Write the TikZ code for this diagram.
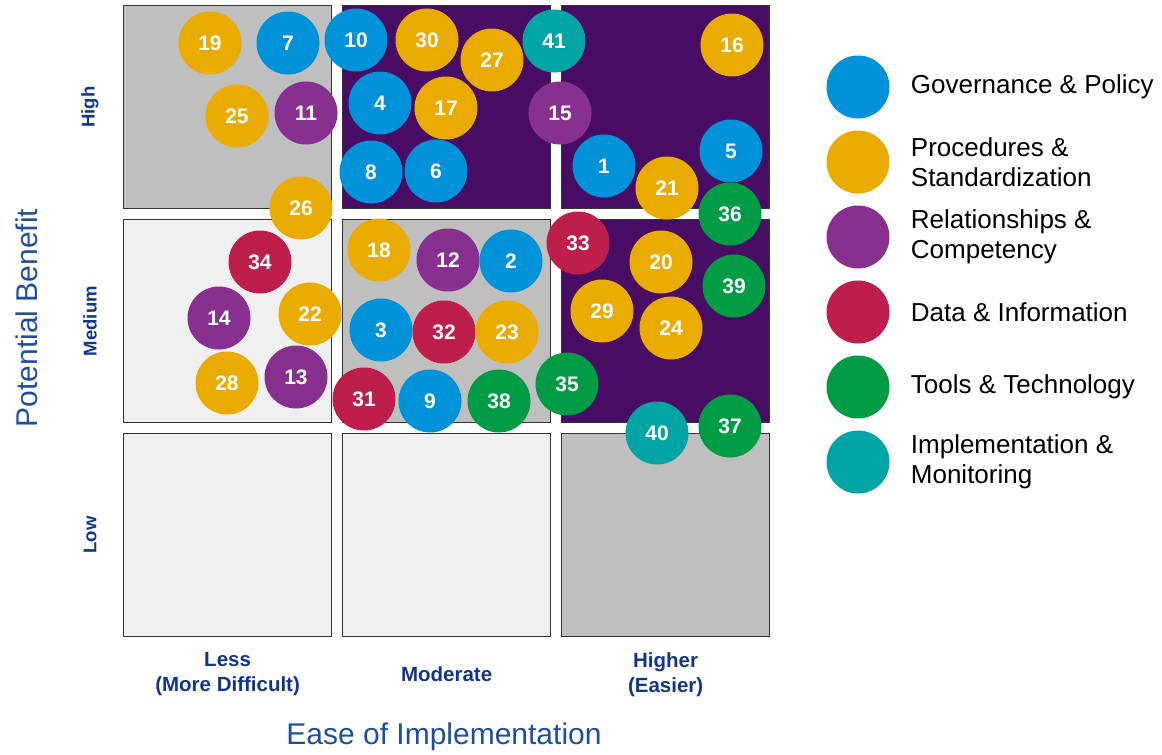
\documentclass[tikz,border=0pt]{standalone}
\usepackage{fontspec}
\setmainfont{Liberation Sans}
\usetikzlibrary{positioning}

\definecolor{govblue}{HTML}{0092D8}
\definecolor{procgold}{HTML}{EAAB00}
\definecolor{relpurple}{HTML}{87308F}
\definecolor{datared}{HTML}{BE1E4C}
\definecolor{toolgreen}{HTML}{009B45}
\definecolor{implteal}{HTML}{00A4A2}
\definecolor{cellpurple}{HTML}{480C64}
\definecolor{cellgray}{HTML}{BFBFBF}
\definecolor{celllight}{HTML}{F0F0F0}
\definecolor{axisnavy}{HTML}{12358C}
\definecolor{titleblue}{HTML}{1F4E9E}

\begin{document}
\begin{tikzpicture}[
            x=1pt, y=-1pt,
            cell/.style={
                draw=black!80, line width=1.2pt, fill=#1,
                minimum width=208pt, minimum height=203pt,
                inner sep=0pt, anchor=north west
            },
            bubble/.style={
                circle, fill=#1, inner sep=0pt, minimum size=63pt,
                text=white, font=\fontsize{21}{21}\selectfont\bfseries
            },
            legendbubble/.style={circle, fill=#1, inner sep=0pt, minimum size=63pt},
            legendtext/.style={anchor=west, align=left, inner sep=0pt, font=\fontsize{26}{30}\selectfont},
            level/.style={rotate=90, text=axisnavy, font=\fontsize{18.5}{18.5}\selectfont\bfseries},
            ease/.style={align=center, text=axisnavy, font=\fontsize{20.5}{25}\selectfont\bfseries},
            axistitle/.style={text=titleblue, font=\fontsize{30}{30}\selectfont}
        ]
        \useasboundingbox (0, 0) rectangle (1162, 755);
        \def\colstep{219}
        \def\rowstep{214}

        \foreach \c/\r/\shade in {0/0/cellgray, 1/0/cellpurple, 2/0/cellpurple,
                                  0/1/celllight, 1/1/cellgray, 2/1/cellpurple,
                                  0/2/celllight, 1/2/celllight, 2/2/cellgray}
            \node[cell=\shade] (cell-\c-\r) at ({123 + \colstep * \c}, {5 + \rowstep * \r}) {};

        \foreach \r/\lvl in {0/High, 1/Medium, 2/Low}
            \node[level] (level-\r) at ([xshift=-33pt]cell-0-\r.west) {\lvl};
        \foreach \c/\ez in {0/{Less\\(More Difficult)}, 1/Moderate, 2/{Higher\\(Easier)}}
            \node[ease] (ease-\c) at ([yshift=-37pt]cell-\c-2.south) {\ez};

        \node[axistitle, rotate=90] (benefit) at (27, 318) {Potential Benefit};
        \node[axistitle] (implementation) at (444, 737) {Ease of Implementation};

        \foreach \n/\px/\py/\kind in {
                19/210/43/procgold, 7/288/43/govblue, 10/356/40/govblue, 30/427/40/procgold,
                27/492/60/procgold, 41/554/41/implteal, 16/732/45/procgold,
                4/380/103/govblue, 17/446/108/procgold, 25/237/116/procgold, 11/306/113/relpurple,
                15/560/113/relpurple, 1/604/166/govblue, 5/731/151/govblue, 21/667/188/procgold,
                8/371/172/govblue, 6/436/171/govblue, 26/301/208/procgold, 36/730/214/toolgreen,
                18/379/250/procgold, 12/448/260/relpurple, 2/511/261/govblue, 33/578/243/datared,
                34/260/262/datared, 20/661/262/procgold, 39/734/286/toolgreen,
                14/219/318/relpurple, 22/310/314/procgold, 29/602/311/procgold, 24/671/328/procgold,
                3/381/330/govblue, 32/444/332/datared, 23/507/332/procgold,
                35/567/384/toolgreen, 28/227/383/procgold, 13/296/377/relpurple,
                31/364/399/datared, 9/430/401/govblue, 38/499/401/toolgreen,
                40/657/433/implteal, 37/730/426/toolgreen}
            \node[bubble=\kind] (b\n) at (\px, \py) {\n};

        % legend
        \foreach \i/\kind/\label in {0/govblue/{Governance \& Policy},
                                     1/procgold/{Procedures \&\\Standardization},
                                     2/relpurple/{Relationships \&\\Competency},
                                     3/datared/{Data \& Information},
                                     4/toolgreen/{Tools \& Technology},
                                     5/implteal/{Implementation \&\\Monitoring}}
        {
            \node[legendbubble=\kind] (leg\i) at (858, {87 + 75 * \i}) {};
            \node[legendtext, right=21pt of leg\i] (legtext\i) {\label};
        }
    \end{tikzpicture}
\end{document}
